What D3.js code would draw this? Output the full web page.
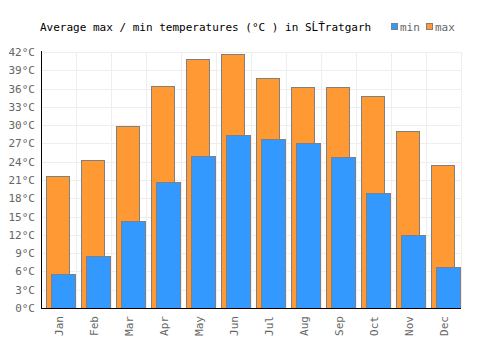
<!DOCTYPE html>
<html><head><meta charset="utf-8">
<script src="https://cdn.jsdelivr.net/npm/d3@7"></script>
<style>body{margin:0;background:#fff}svg{display:block}text{font-family:"DejaVu Sans Mono",monospace}</style>
</head><body>
<script>
const months=["Jan","Feb","Mar","Apr","May","Jun","Jul","Aug","Sep","Oct","Nov","Dec"];
const minVals=[5.6,8.6,14.3,20.6,25.0,28.4,27.8,27.0,24.7,18.8,11.9,6.8];
const maxVals=[21.6,24.2,29.9,36.5,40.8,41.6,37.8,36.3,36.2,34.8,29.1,23.4];
const yTicks=[0,3,6,9,12,15,18,21,24,27,30,33,36,39,42];
const title="Average max / min temperatures (°C ) in SĹŤratgarh";

const W=500,H=350,L=41,R=461,T=52,B=308;
const svg=d3.select("body").append("svg").attr("width",W).attr("height",H);
const x=d3.scaleBand().domain(months).range([L,R]);
const y=d3.scaleLinear().domain([0,42]).range([B,T]);

// grid
svg.append("g").selectAll("line.h").data(yTicks).join("line")
 .attr("x1",L).attr("x2",R).attr("y1",d=>Math.round(y(d))+0.5).attr("y2",d=>Math.round(y(d))+0.5)
 .attr("stroke","#eeeeee").attr("stroke-width",1);
svg.append("g").selectAll("line.v").data(months).join("line")
 .attr("x1",d=>Math.round(x(d)+x.bandwidth())+0.5).attr("x2",d=>Math.round(x(d)+x.bandwidth())+0.5)
 .attr("y1",T).attr("y2",B).attr("stroke","#eeeeee").attr("stroke-width",1);

// max bars
svg.append("g").selectAll("rect").data(months).join("rect")
 .attr("x",d=>x(d)+5.5).attr("width",23)
 .attr("y",(d,i)=>Math.round(y(maxVals[i]))+0.5).attr("height",(d,i)=>B-Math.round(y(maxVals[i])))
 .attr("fill","#ff9933").attr("stroke","#808080").attr("stroke-width",1);
// min bars
svg.append("g").selectAll("rect").data(months).join("rect")
 .attr("x",d=>x(d)+10.5).attr("width",24)
 .attr("y",(d,i)=>Math.round(y(minVals[i]))+0.5).attr("height",(d,i)=>B-Math.round(y(minVals[i])))
 .attr("fill","#3399ff").attr("stroke","#808080").attr("stroke-width",1);

// axes lines
svg.append("line").attr("x1",L+0.5).attr("x2",L+0.5).attr("y1",T-1).attr("y2",B+1).attr("stroke","#000");
svg.append("line").attr("x1",L).attr("x2",R).attr("y1",B+0.5).attr("y2",B+0.5).attr("stroke","#000");

// y labels
svg.append("g").selectAll("text").data(yTicks).join("text")
 .attr("x",35).attr("y",d=>y(d)+4).attr("text-anchor","end")
 .attr("font-size",11).attr("fill","#666").text(d=>d+"°C");
// x labels
svg.append("g").selectAll("text").data(months).join("text")
 .attr("transform",d=>`translate(${x(d)+x.bandwidth()/2+4},316) rotate(-90)`)
 .attr("text-anchor","end").attr("font-size",11).attr("fill","#666").text(d=>d);

// title
svg.append("text").attr("x",40).attr("y",31).attr("font-size",11).attr("fill","#000").text(title);
// legend
const leg=[{k:"min",c:"#3399ff",x:391},{k:"max",c:"#ff9933",x:426}];
const lg=svg.append("g").selectAll("g").data(leg).join("g");
lg.append("rect").attr("x",d=>d.x+0.5).attr("y",23.5).attr("width",6).attr("height",6)
 .attr("fill",d=>d.c).attr("stroke","#808080");
lg.append("text").attr("x",d=>d.x+9).attr("y",31).attr("font-size",11).attr("fill","#666").text(d=>d.k);
</script>
</body></html>
